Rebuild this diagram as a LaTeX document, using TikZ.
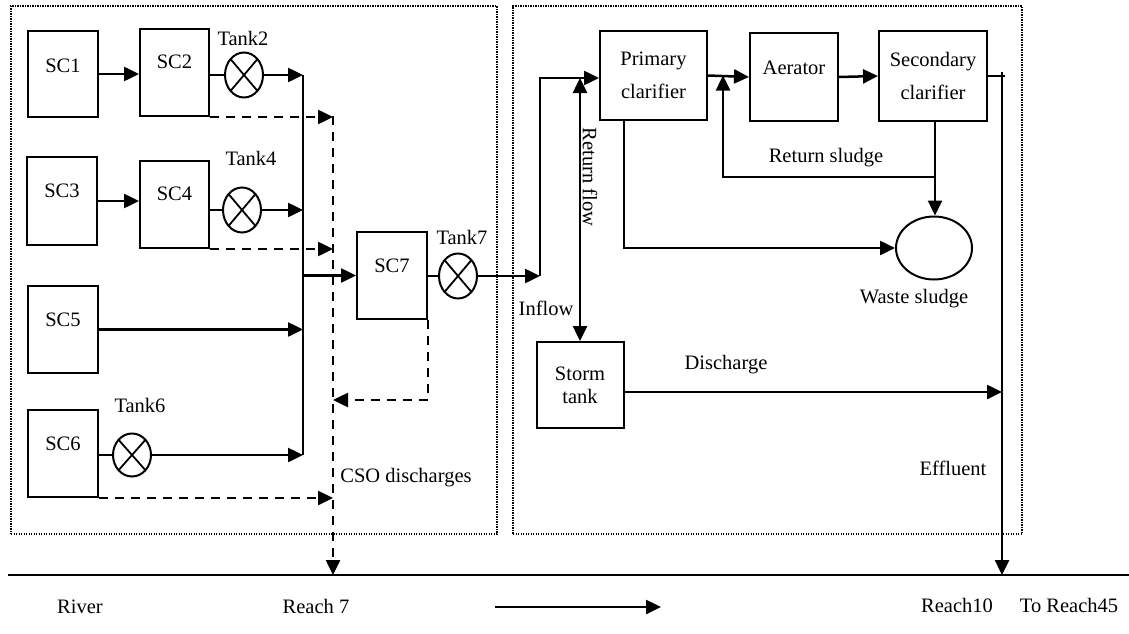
\documentclass[tikz,border=0pt]{standalone}
\usepackage{fontspec}
\setmainfont{Liberation Serif}
\usetikzlibrary{shapes.geometric,arrows.meta}
\begin{document}
\begin{tikzpicture}[x=1pt,y=-1pt,
  box/.style={draw,line width=2pt,inner sep=0pt,font=\fontsize{20.5}{33}\selectfont,align=center},
  tank/.style={draw,ellipse,line width=2pt,minimum width=38pt,minimum height=45pt,inner sep=0pt,
    path picture={\draw[line width=1.8pt] (path picture bounding box.north west)--(path picture bounding box.south east)
      (path picture bounding box.north east)--(path picture bounding box.south west);}},
  lbl/.style={font=\fontsize{20.5}{24}\selectfont,inner sep=0pt,anchor=base},
  dotbox/.style={draw,line width=1.3pt,dash pattern=on 1.3pt off 1.2pt,inner sep=0pt},
  conn/.style={line width=2.5pt},
  arr/.style={conn,-{Triangle[length=15pt,width=14pt]}},
  darr/.style={conn,{Triangle[length=15pt,width=14pt]}-{Triangle[length=15pt,width=14pt]}},
  dsh/.style={arr,dash pattern=on 9pt off 7pt}
]
\useasboundingbox (0,0) rectangle (1129,634);
% dotted frames
\node[dotbox,minimum width=486pt,minimum height=528pt] (catch) at (254,270) {};
\node[dotbox,minimum width=509pt,minimum height=528pt] (wwtp) at (767.5,270) {};
% boxes
\node[box,minimum width=70pt,minimum height=86pt] (sc1) at (63,74) {};
\node[box,minimum width=69pt,minimum height=87pt] (sc2) at (174.5,72.5) {};
\node[box,minimum width=70pt,minimum height=88pt] (sc3) at (62,201) {};
\node[box,minimum width=69pt,minimum height=87pt] (sc4) at (174.5,204.5) {};
\node[box,minimum width=70pt,minimum height=87pt] (sc5) at (63,329.5) {};
\node[box,minimum width=70pt,minimum height=87pt] (sc6) at (63,453.5) {};
\node[box,minimum width=70pt,minimum height=87pt] (sc7) at (392,275.5) {};
\node[lbl] (l1) at (63,72) {SC1};
\node[lbl] (l2) at (174.5,69) {SC2};
\node[lbl] (l3) at (62,197) {SC3};
\node[lbl] (l4) at (174.5,200) {SC4};
\node[lbl] (l5) at (63,326) {SC5};
\node[lbl] (l6) at (63,450) {SC6};
\node[lbl] (l7) at (392,272) {SC7};
% tanks
\node[tank] (t2) at (244,75) {};
\node[tank] (t4) at (242,210) {};
\node[tank,minimum height=43pt] (t6) at (132,455) {};
\node[tank] (t7) at (458,276) {};
\node[lbl] (lt2) at (243,46) {Tank2};
\node[lbl] (lt4) at (251,165) {Tank4};
\node[lbl] (lt6) at (140,412) {Tank6};
\node[lbl] (lt7) at (462,244) {Tank7};
% treatment plant
\node[box,minimum width=107pt,minimum height=89pt] (pc) at (653.5,75.5) {Primary\\clarifier};
\node[box,minimum width=88pt,minimum height=88pt] (aer) at (794,77) {\raisebox{18pt}{Aerator}};
\node[box,minimum width=108pt,minimum height=90pt] (scl) at (933,76) {Secondary\\clarifier};
\node[box,minimum width=87pt,minimum height=86pt,font=\fontsize{20.5}{23}\selectfont] (st) at (580,385) {Storm\\tank};
\node[draw,ellipse,line width=2pt,minimum width=76pt,minimum height=63pt,inner sep=0pt] (ws) at (934,248) {};
% coordinates
\coordinate (bT) at (303,75);
\coordinate (bB) at (303,455);
\coordinate (cT) at (333,116);
\coordinate (cR) at (333,575);
\coordinate (c7) at (333,400);
\coordinate (iB) at (540,276);
\coordinate (iT) at (540,78);
\coordinate (rsR) at (935,177);
\coordinate (rsL) at (723,177);
\coordinate (eT) at (1002,72);
\coordinate (eB) at (1002,575);
\coordinate (rvL) at (8,575);
\coordinate (rvR) at (1129,575);
\coordinate (aL) at (495,607);
\coordinate (aR) at (661,607);
% catchment connectors
\draw[arr] (sc1.east) -- (sc1.east -| sc2.west);
\draw[conn] (t2.west -| sc2.east) -- (t2.west);
\draw[arr] (t2.east) -- (t2.east -| bT);
\draw[arr] (sc3.east) -- (sc3.east -| sc4.west);
\draw[conn] (t4.west -| sc4.east) -- (t4.west);
\draw[arr] (t4.east) -- (t4.east -| bT);
\draw[arr] (sc5.east) -- (sc5.east -| bT);
\draw[conn] (t6.west -| sc6.east) -- (t6.west);
\draw[arr] (t6.east) -- (t6.east -| bT);
\draw[conn] (bT) -- (bB);
\draw[arr] (sc7.west -| bT) -- (sc7.west);
\draw[conn] (t7.west -| sc7.east) -- (t7.west);
\draw[arr] (t7.east) -- (iB);
\draw[arr] (iB) -- (iT) -- (iT -| pc.west);
% CSO dashed
\draw[dsh] (sc2.south east) -- (sc2.south east -| cT);
\draw[dsh] (sc4.south east) -- (sc4.south east -| cT);
\draw[dsh] (sc6.south east) -- (sc6.south east -| cT);
\draw[dsh] (sc7.south east) |- (c7);
\draw[dsh] (cT) -- (cR);
% plant connectors
\draw[darr] (st.north) -- (st.north |- iT);
\draw[arr] (pc.east) -- (aer.west);
\draw[arr] (aer.east) -- (scl.west);
\draw[arr] (scl.south -| rsR) -- (rsR |- ws.north);
\draw[arr] (rsR) -- (rsL) -- (rsL |- pc.east);
\draw[arr] ([xshift=-29.5pt]pc.south) |- (ws.west);
\draw[conn] (scl.east) -- ++(17,0);
\draw[arr] (eT) -- (eB);
\draw[arr] ([yshift=-7pt]st.east) -- ([yshift=-7pt]st.east -| eT);
% river
\draw[conn] (rvL) -- (rvR);
\draw[arr] (aL) -- (aR);
% labels
\node[lbl] (lrs) at (826,162) {Return sludge};
\node[lbl] (lws) at (914,303) {Waste sludge};
\node[lbl] (lin) at (546,315) {Inflow};
\node[lbl] (ldis) at (726,369) {Discharge};
\node[lbl] (leff) at (953,475) {Effluent};
\node[lbl] (lcso) at (406,482) {CSO discharges};
\node[lbl,anchor=center,rotate=-90] (lrf) at (590,177) {Return flow};
\node[lbl] (lriv) at (80,613) {River};
\node[lbl] (lr7) at (316,613) {Reach 7};
\node[lbl] (lr10) at (957,612) {Reach10};
\node[lbl] (lr45) at (1069,612) {To Reach45};
\end{tikzpicture}
\end{document}
